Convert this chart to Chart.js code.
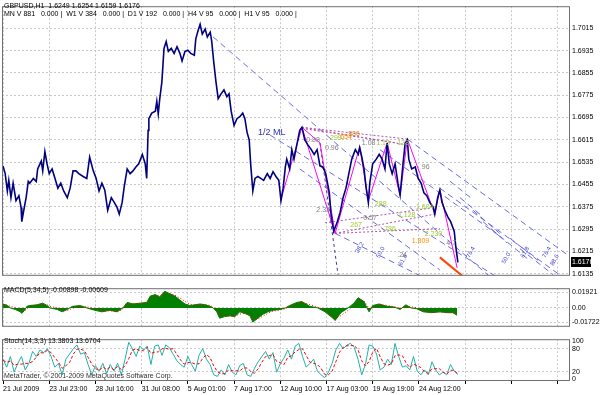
<!DOCTYPE html>
<html>
<head>
<meta charset="utf-8">
<script src="https://cdn.jsdelivr.net/npm/chart.js@4.4.1/dist/chart.umd.min.js"></script>
<style>
  body { margin: 0; background: #fff; }
  canvas { position: absolute; left: 0; }
</style>
</head>
<body>
<canvas id="main" width="600" height="282" style="top:0"></canvas>
<canvas id="macd" width="600" height="51" style="top:282px"></canvas>
<canvas id="stoch" width="600" height="62" style="top:333px"></canvas>
<script>
// ---- data (x = H1 bar number from 21 Jul 2009) ----
const timeLabels = ["21 Jul 2009", "23 Jul 23:00", "28 Jul 16:00", "31 Jul 08:00", "5 Aug 01:00",
  "7 Aug 17:00", "12 Aug 10:00", "17 Aug 03:00", "19 Aug 19:00", "24 Aug 12:00"];
const gridBars = [0, 64, 128, 192, 256, 320, 384, 448, 512, 576, 640, 704, 768];
const priceTicks = [1.6135, 1.6215, 1.6295, 1.6375, 1.6455, 1.6535, 1.6615, 1.6695, 1.6775, 1.6855, 1.6935, 1.7015];

const priceBars = [0, 3, 6, 8, 11, 14, 18, 22, 25, 26, 29, 32, 35, 37, 42, 46, 48, 53, 55, 58, 61, 64, 68, 72, 76, 80, 84, 89, 93, 97,
  101, 105, 111, 116, 120, 125, 129, 133, 137, 141, 145, 150, 154, 158, 161, 165, 168, 172, 176, 180, 184, 188, 193, 197, 199,
  201, 202, 206, 211, 213, 215, 217, 220, 223, 226, 229, 233, 237, 241, 245, 248, 252, 256, 260, 265, 267, 270, 273, 276, 280,
  283, 287, 289, 292, 295, 298, 302, 306, 310, 313, 316, 320, 324, 328, 332, 335, 338, 341, 343, 346, 349, 353, 357, 361, 366,
  370, 374, 378, 382, 385, 388, 391, 393, 397, 400, 403, 407, 411, 414, 418, 422, 427, 431, 435, 439, 443, 447, 452, 454, 458,
  463, 467, 471, 475, 479, 483, 488, 492, 494, 497, 500, 503, 506, 508, 512, 517, 521, 525, 529, 532, 535, 539, 543, 547, 550,
  554, 557, 560, 562, 566, 571, 575, 579, 583, 587, 591, 596, 598, 602, 605, 608, 612, 616, 620, 625, 627, 630];
const priceClose = [1.6522, 1.6494, 1.6432, 1.6470, 1.6408, 1.6460, 1.6397, 1.6415, 1.6373, 1.6322, 1.6366, 1.6408, 1.6466, 1.6460, 1.6477,
  1.6466, 1.6511, 1.6539, 1.6504, 1.6573, 1.6529, 1.6494, 1.6511, 1.6477, 1.6442, 1.6460, 1.6432, 1.6408, 1.6442, 1.6504,
  1.6504, 1.6494, 1.6484, 1.6477, 1.6553, 1.6504, 1.6477, 1.6432, 1.6460, 1.6435, 1.6363, 1.6408, 1.6391, 1.6373, 1.6349,
  1.6391, 1.6449, 1.6511, 1.6494, 1.6504, 1.6518, 1.6529, 1.6563, 1.6529, 1.6477,
  1.6649, 1.6691, 1.6711, 1.6718, 1.6753, 1.6708, 1.6760, 1.6822, 1.6943, 1.6967, 1.6932, 1.6943, 1.6925, 1.6949, 1.6925,
  1.6898, 1.6932, 1.6936, 1.6925, 1.6918, 1.6977, 1.7005, 1.7029, 1.6994, 1.7012,
  1.6984, 1.7001, 1.6970, 1.6891, 1.6822, 1.6763, 1.6780, 1.6794, 1.6770, 1.6780, 1.6718, 1.6667, 1.6691, 1.6698, 1.6711,
  1.6691, 1.6642, 1.6615, 1.6529, 1.6432, 1.6477, 1.6484, 1.6477, 1.6470, 1.6494,
  1.6477, 1.6501, 1.6484, 1.6470, 1.6397, 1.6442, 1.6518, 1.6546, 1.6511, 1.6580, 1.6546, 1.6598, 1.6649, 1.6660, 1.6615,
  1.6598, 1.6580, 1.6563, 1.6580, 1.6522, 1.6518, 1.6494, 1.6425, 1.6356, 1.6287,
  1.6322, 1.6356, 1.6408, 1.6442, 1.6494, 1.6546, 1.6580, 1.6563, 1.6587, 1.6553, 1.6511, 1.6442, 1.6391, 1.6460, 1.6529,
  1.6546, 1.6563, 1.6546, 1.6511, 1.6604, 1.6529, 1.6494, 1.6529, 1.6460, 1.6418,
  1.6529, 1.6604, 1.6615, 1.6546, 1.6511, 1.6518, 1.6477, 1.6460, 1.6425, 1.6415, 1.6391, 1.6373, 1.6349, 1.6408, 1.6435,
  1.6391, 1.6363, 1.6339, 1.6322, 1.6287, 1.6235, 1.6176];
const headerLine1 = "GBPUSD,H1  1.6249 1.6254 1.6159 1.6176";
const headerLine2 = "MN V 881   0.000 |  W1 V 384   0.000 |  D1 V 192   0.000 |  H4 V 95   0.000 |  H1 V 95   0.000 |";

// zigzag pivots [bar, price]
const zigzag = [[384, 1.6394], [414, 1.6660], [460, 1.6280], [494, 1.6591], [506, 1.6397], [532, 1.6604],
  [550, 1.6415], [560, 1.6618], [598, 1.6349], [605, 1.6435], [629, 1.6156]];
const zigzagBranch = [[414, 1.6660], [439, 1.6604], [460, 1.6280]];

// pitchfork / warning lines [[bar, price], [bar, price]]
const pitchLines = [
  [[291, 1.6984], [800, 1.5843]],
  [[370, 1.6632], [800, 1.5936]],
  [[560, 1.6618], [800, 1.6169]],
  [[605, 1.6442], [800, 1.6077]],
  [[522, 1.6580], [688, 1.6270]],
  [[411, 1.6511], [605, 1.6149]],
  [[460, 1.6280], [578, 1.6128]],
  [[619, 1.6467], [651, 1.6401]],
  [[633, 1.6408], [665, 1.6339]],
  [[651, 1.6363], [688, 1.6280]],
  [[665, 1.6322], [698, 1.6246]],
  [[677, 1.6294], [726, 1.6190]],
  [[702, 1.6263], [744, 1.6177]],
  [[716, 1.6225], [762, 1.6132]]
];
const darkDashLines = [[[439, 1.6604], [464, 1.6132]]];
const fibDotLines = [
  [[414, 1.6660], [560, 1.6618]],
  [[414, 1.6660], [557, 1.6598]],
  [[414, 1.6656], [546, 1.6604]],
  [[460, 1.6280], [598, 1.6349]],
  [[460, 1.6280], [605, 1.6297]],
  [[446, 1.6318], [591, 1.6370]]
];
const stopLine = [[605, 1.6194], [636, 1.6128]];

// fib ratio labels [bar, price, text, colour]
const fibLabels = [
  [420, 1.6615, "0.88", "#808080"], [453, 1.6622, "299", "#9acd32"], [467, 1.6625, "654", "#ff8c00"],
  [478, 1.6635, "886", "#d08030"], [446, 1.6584, "0.96", "#808080"], [497, 1.6604, "1.08", "#808080"],
  [517, 1.6604, "1.13", "#9acd32"], [546, 1.6604, "128", "#9acd32"], [580, 1.6518, "96", "#808080"],
  [434, 1.6363, "2.37", "#808080"], [481, 1.6311, "267", "#9acd32"], [499, 1.6335, "0.57", "#808080"],
  [515, 1.6384, "288", "#9acd32"], [547, 1.6346, "1.128", "#9acd32"], [572, 1.6373, "1.604", "#9acd32"],
  [528, 1.6297, "786", "#9acd32"], [584, 1.6277, "2.230", "#9acd32"], [566, 1.6253, "1.809", "#ff8c00"],
  [614, 1.6246, "4.7", "#808080"], [546, 1.6201, ".24", "#808080"]
];
const pitchLabels = [[490, 1.6211, "38.2"], [519, 1.6194, "50.0"], [550, 1.6166, "61.8"], [644, 1.6194, "76.4"],
  [693, 1.6173, "50.0"], [719, 1.6194, "61.8"], [749, 1.6194, "76.4"], [760, 1.6166, "88.6"]];

// MACD(5,34,5)
const macdBars = [0, 6, 10, 17, 24, 26, 30, 33, 37, 47, 55, 61, 65, 75, 82, 89, 96, 107, 116, 127, 137, 148, 158, 163, 166, 172,
  180, 190, 199, 204, 211, 217, 224, 231, 238, 245, 252, 259, 266, 273, 280, 287, 291, 296, 300, 307, 314, 321, 328, 335,
  342, 346, 353, 360, 367, 374, 384, 391, 397, 407, 414, 425, 436, 446, 457, 460, 468, 478, 486, 492, 500, 504, 507, 512,
  521, 532, 542, 550, 558, 565, 573, 582, 594, 605, 616, 623, 629];
const macdHist = [0.0048, 0.0029, 0.0, -0.0019, -0.0048, -0.0067, -0.0029, 0.0019, 0.0029, 0.0038,
  0.0058, 0.0029, 0, -0.0019, -0.0048, -0.0019, 0.0019, 0.0029, 0, -0.0029,
  -0.0048, -0.0029, -0.0048, -0.0019, 0, 0.0067, 0.0048, 0.0058, 0.0067, 0.0144,
  0.0163, 0.0134, 0.0202, 0.0173, 0.0144, 0.0096, 0.0048, 0.0029, 0.0038, 0.0048,
  0.0038, 0.0019, 0, -0.0048, -0.0125, -0.0106, -0.0096, -0.0106, -0.0048, -0.0067,
  -0.0096, -0.0173, -0.0125, -0.0077, -0.0048, -0.0029, -0.0019, 0, 0.0029, 0.0067,
  0.0077, 0.0019, 0, -0.0048, -0.0125, -0.0154, -0.0058, 0, 0.0058, 0.0125,
  0.0077, 0, -0.0048, 0.0029, 0.0048, 0.0019, 0.0010, -0.0019, 0.0038, 0,
  -0.0010, -0.0048, -0.0058, -0.0048, -0.0058, -0.0058, -0.0090];
const macdSignal = [0.0040, 0.0035, 0.0020, 0.0005, -0.0020, -0.0040, -0.0040, -0.0010, 0.0015, 0.0030,
  0.0045, 0.0040, 0.0020, 0.0000, -0.0025, -0.0030, -0.0005, 0.0020, 0.0015, -0.0010,
  -0.0035, -0.0035, -0.0040, -0.0030, -0.0010, 0.0030, 0.0050, 0.0055, 0.0060, 0.0100,
  0.0140, 0.0145, 0.0170, 0.0175, 0.0155, 0.0120, 0.0080, 0.0045, 0.0035, 0.0040,
  0.0040, 0.0030, 0.0010, -0.0025, -0.0080, -0.0100, -0.0100, -0.0100, -0.0075, -0.0065,
  -0.0080, -0.0130, -0.0135, -0.0100, -0.0065, -0.0040, -0.0025, -0.0010, 0.0015, 0.0045,
  0.0065, 0.0040, 0.0010, -0.0025, -0.0085, -0.0130, -0.0095, -0.0030, 0.0030, 0.0090,
  0.0085, 0.0035, -0.0015, 0.0005, 0.0035, 0.0030, 0.0015, -0.0005, 0.0015, 0.0015,
  0.0000, -0.0030, -0.0050, -0.0050, -0.0055, -0.0058, -0.0061];
const macdTicks = [-0.01722, 0, 0.01921];

// Stoch(14,3,3), evenly spaced samples from bar 0 to the last bar
const stochLastBar = 630;
const stochK = [53, 32, 60, 19, 42, 60, 25, 42, 73, 60, 77, 70, 80, 60, 32, 42, 12, 53, 66, 80,
  90, 66, 70, 39, 12, 36, 22, 42, 15, 39, 22, 42, 12, 53, 97, 80, 60, 87, 77, 87,
  39, 87, 90, 63, 90, 83, 66, 49, 39, 32, 60, 39, 22, 63, 80, 53, 39, 12, 8, 25,
  12, 39, 19, 12, 36, 42, 12, 8, 29, 46, 60, 73, 53, 70, 19, 42, 56, 77, 53, 87,
  94, 60, 32, 42, 53, 22, 12, 5, 19, 42, 77, 94, 80, 90, 94, 83, 53, 12, 39, 90,
  87, 66, 25, 32, 53, 39, 94, 60, 32, 36, 25, 60, 22, 12, 25, 12, 46, 25, 12, 19,
  12, 39, 22, 13];
const stochD = [50, 45, 48, 37, 40, 40, 42, 42, 47, 58, 70, 69, 76, 70, 57, 45, 29, 36, 44, 66,
  79, 79, 75, 58, 40, 29, 23, 33, 26, 32, 25, 34, 26, 36, 54, 77, 79, 76, 75, 84,
  68, 71, 72, 80, 81, 79, 80, 66, 51, 40, 44, 44, 40, 41, 55, 65, 57, 35, 20, 15,
  15, 25, 23, 23, 22, 30, 30, 21, 16, 28, 45, 60, 62, 65, 47, 44, 39, 58, 62, 72,
  78, 80, 62, 45, 42, 39, 29, 13, 12, 22, 46, 71, 84, 88, 88, 89, 77, 49, 35, 47,
  72, 81, 59, 41, 37, 41, 62, 64, 62, 43, 31, 40, 36, 31, 20, 16, 28, 28, 28, 19,
  14, 24, 24, 14];
const stochTicks = [0, 20, 80, 100];

// ---- shared setup ----
const FONT = "Liberation Sans";
Chart.defaults.font.family = FONT;
Chart.defaults.font.size = 7;
Chart.defaults.color = "#000";
const X_MIN = -1.4, X_MAX = 785.3;
const GRID = "#c8c8c8";

const pts = arr => arr.map(([x, y]) => ({ x, y }));
const line = (data, color, width, dash) => ({
  data, borderColor: color, borderWidth: width, borderDash: dash || [],
  pointRadius: 0, fill: false, tension: 0
});

function xScale(showLabels) {
  return {
    type: "linear", min: X_MIN, max: X_MAX,
    afterBuildTicks: s => { s.ticks = gridBars.map(v => ({ value: v })); },
    afterFit: s => { s.height = showLabels ? 14 : 0; },
    grid: { color: GRID, drawTicks: showLabels, tickLength: 3, tickColor: "#000" },
    border: { display: false, dash: [2, 2] },
    ticks: {
      display: showLabels, autoSkip: false, maxRotation: 0, align: "start", padding: 1,
      callback: v => timeLabels[v / 64] || ""
    }
  };
}
function yScale(min, max, ticks, fmt, gridColor) {
  return {
    position: "right", min, max,
    afterBuildTicks: s => { s.ticks = ticks.map(v => ({ value: v })); },
    afterFit: s => { s.width = 30; },
    grid: { color: gridColor || GRID, drawTicks: false },
    border: { display: false, dash: [2, 2] },
    ticks: { autoSkip: false, padding: 2, callback: fmt }
  };
}
const frame = {
  id: "frame",
  afterDraw(chart) {
    const { ctx, chartArea: a } = chart;
    ctx.save();
    ctx.strokeStyle = "#707070";
    ctx.lineWidth = 1;
    ctx.strokeRect(a.left + 0.5, a.top + 0.5, a.right - a.left - 1, a.bottom - a.top - 1);
    ctx.restore();
  }
};
const baseOpts = {
  responsive: false, animation: false, events: [],
  plugins: { legend: { display: false }, tooltip: { enabled: false } }
};

// ---- main price panel ----
const mainText = {
  id: "mainText",
  afterDraw(chart) {
    const { ctx, scales: { x, y } } = chart;
    ctx.save();
    ctx.font = "7px " + FONT;
    ctx.textBaseline = "middle";
    ctx.fillStyle = "#000";
    ctx.fillText(headerLine1, 4, 6);
    ctx.fillText(headerLine2, 4, 14);
    fibLabels.forEach(([b, p, t, c]) => {
      ctx.fillStyle = c;
      ctx.fillText(t, x.getPixelForValue(b), y.getPixelForValue(p));
    });
    ctx.fillStyle = "#4a4ad8";
    ctx.font = "6px " + FONT;
    pitchLabels.forEach(([b, p, t]) => {
      ctx.save();
      ctx.translate(x.getPixelForValue(b), y.getPixelForValue(p));
      ctx.rotate(-Math.PI / 3);
      ctx.fillText(t, 0, 0);
      ctx.restore();
    });
    ctx.font = "9px " + FONT;
    ctx.fillStyle = "#3030c0";
    ctx.fillText("1/2 ML", x.getPixelForValue(353), y.getPixelForValue(1.6642));
    // last price box
    const last = priceClose[priceClose.length - 1];
    const py = Math.round(y.getPixelForValue(last));
    ctx.fillStyle = "#000";
    ctx.fillRect(571, py - 5, 20, 10);
    ctx.fillStyle = "#fff";
    ctx.font = "7px " + FONT;
    ctx.fillText(last.toFixed(4), 572, py);
    ctx.restore();
  }
};
const mainDatasets = [line(pts(priceBars.map((b, i) => [b, priceClose[i]])), "#000080", 1.6)];
mainDatasets.push(line(pts(zigzag), "#ff00ff", 1));
mainDatasets.push(line(pts(zigzagBranch), "#ff00ff", 1));
mainDatasets.push(line(pts(stopLine), "#ff4500", 2));
fibDotLines.forEach(l => mainDatasets.push(line(pts(l), "#b050b0", 1, [2, 2])));
darkDashLines.forEach(l => mainDatasets.push(line(pts(l), "#3a3aa0", 1, [3, 3])));
pitchLines.forEach(l => mainDatasets.push(line(pts(l), "#6a6ae8", 1, [6, 4])));

new Chart(document.getElementById("main"), {
  type: "line",
  data: { datasets: mainDatasets },
  options: {
    ...baseOpts,
    layout: { padding: { left: 2, right: 0, top: 1, bottom: 1 } },
    scales: { x: xScale(false), y: yScale(1.6128, 1.7094, priceTicks, v => v.toFixed(4)) }
  },
  plugins: [frame, mainText]
});

// ---- MACD panel ----
new Chart(document.getElementById("macd"), {
  type: "line",
  data: {
    datasets: [
      Object.assign(line(pts(macdBars.map((b, i) => [b, macdSignal[i]])), "#ff0000", 1, [1, 2]), {}),
      Object.assign(line(pts(macdBars.map((b, i) => [b, macdHist[i]])), "#008000", 1), {
        fill: "origin", backgroundColor: "#008000"
      })
    ]
  },
  options: {
    ...baseOpts,
    layout: { padding: { left: 2, right: 0, top: 1, bottom: 1 } },
    scales: { x: xScale(false), y: yScale(-0.0230, 0.0240, macdTicks, v => v === 0 ? "0.00" : v.toFixed(5)) }
  },
  plugins: [frame, {
    id: "macdText",
    afterDraw(chart) {
      const ctx = chart.ctx;
      ctx.save();
      ctx.font = "7px " + FONT;
      ctx.textBaseline = "middle";
      ctx.fillStyle = "#000";
      ctx.fillText("MACD(5,34,5) -0.00898 -0.00609", 4, 8);
      ctx.restore();
    }
  }]
});

// ---- Stochastic panel ----
const stochStep = stochLastBar / (stochK.length - 1);
new Chart(document.getElementById("stoch"), {
  type: "line",
  data: {
    datasets: [
      line(pts(stochD.map((v, i) => [i * stochStep, v])), "#ff0000", 1, [3, 2]),
      line(pts(stochK.map((v, i) => [i * stochStep, v])), "#20b2aa", 1)
    ]
  },
  options: {
    ...baseOpts,
    layout: { padding: { left: 2, right: 0, top: 1, bottom: 0 } },
    scales: {
      x: xScale(true),
      y: yScale(-4, 105, stochTicks, v => String(v),
        c => (c.tick && (c.tick.value === 20 || c.tick.value === 80)) ? GRID : "rgba(0,0,0,0)")
    }
  },
  plugins: [frame, {
    id: "stochText",
    afterDraw(chart) {
      const ctx = chart.ctx;
      ctx.save();
      ctx.font = "7px " + FONT;
      ctx.textBaseline = "middle";
      ctx.fillStyle = "#000";
      ctx.fillText("Stoch(14,3,3) 13.3803 13.6704", 4, 8);
      ctx.fillStyle = "#303030";
      ctx.fillText("MetaTrader, \u00a9 2001-2009 MetaQuotes Software Corp.", 4, 43);
      ctx.restore();
    }
  }]
});
</script>
</body>
</html>
